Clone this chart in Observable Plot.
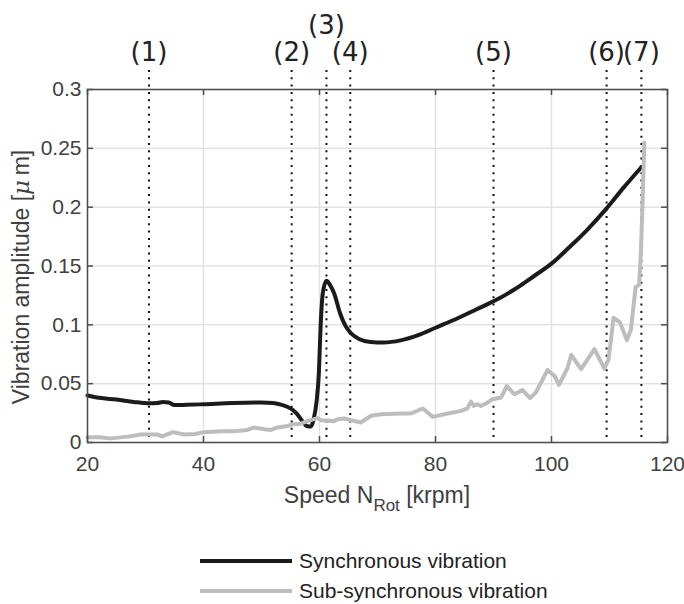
<!DOCTYPE html>
<html><head><meta charset="utf-8">
<script src="https://cdn.jsdelivr.net/npm/d3@7"></script>
<script src="https://cdn.jsdelivr.net/npm/@observablehq/plot@0.6"></script>
<style>
body{margin:0;background:#fff;overflow:hidden;font-family:"Liberation Sans",Arial,sans-serif}
#legend{position:absolute;left:0;top:546px;color:#222;font-size:21px}
.row{display:flex;align-items:center;height:30px}
.sw{margin-left:200px;width:92px;height:4px}
.lb{margin-left:7px}
</style></head><body><div id="chart"></div><div id="legend"></div>
<script>
// Synchronous vibration (black)
const syncSpeed = [20,22,25,28,30.6,32,33,34,35,37,40,45,50,52,53.5,55,56,57,57.8,58.5,59,59.5,59.9,60.2,60.6,61.2,61.8,62.5,63.6,64.5,65.3,66.8,68.8,71,74,77,80,84,87,90,93.6,97,100,103.3,106.2,109.5,112.5,115.5];
const syncAmp   = [0.040,0.038,0.0365,0.0345,0.0333,0.0335,0.0345,0.034,0.0318,0.032,0.0325,0.0335,0.034,0.0335,0.032,0.029,0.025,0.0185,0.014,0.0135,0.02,0.035,0.06,0.1,0.128,0.1375,0.134,0.127,0.109,0.099,0.0935,0.088,0.0855,0.085,0.0868,0.0912,0.0975,0.106,0.113,0.120,0.130,0.1415,0.152,0.167,0.181,0.199,0.217,0.234];
// Sub-synchronous vibration (grey)
const subSpeed = [20,22,24,27,29.2,32,32.9,34.7,36.7,38.5,40.1,43,45.3,47.6,48.7,50.5,51.6,52.8,54.5,55.6,56.8,58,59.7,60.2,61.9,62.5,63.1,64.3,65.4,67.1,68.9,70.6,74,75.7,77.8,79.5,82.1,84.4,85.5,86.1,86.6,87.2,87.8,88.7,89.8,91.3,92.3,93.6,95,96.3,97.3,98.2,99.3,100.5,101.3,102.8,103.4,105.1,107.4,109.1,109.8,110.2,110.7,111.8,113,113.7,114.5,115.1,115.4,115.7,116.0];
const subAmp   = [0.0045,0.0045,0.0035,0.005,0.0068,0.0068,0.0052,0.0088,0.0068,0.0072,0.0088,0.0095,0.0095,0.0107,0.0128,0.0112,0.0107,0.0128,0.014,0.0156,0.016,0.0184,0.0207,0.019,0.0184,0.018,0.0198,0.0204,0.019,0.017,0.0227,0.024,0.0246,0.0246,0.0289,0.0218,0.0246,0.0269,0.029,0.0348,0.031,0.0325,0.031,0.0331,0.0368,0.0382,0.048,0.041,0.0445,0.0377,0.0425,0.051,0.0615,0.0567,0.049,0.0637,0.0745,0.0623,0.0793,0.063,0.07,0.085,0.106,0.102,0.087,0.096,0.132,0.134,0.16,0.204,0.255];
// Operating points
const markerSpeed = [30.6,55.2,61.2,65.3,90,109.5,115.5];
const markerLabel = ["(1)","(2)","(3)","(4)","(5)","(6)","(7)"];
// Ticks
const xTicks = [20,40,60,80,100,120];
const xTickLabels = ["20","40","60","80","100","120"];
const yTicks = [0,0.05,0.1,0.15,0.2,0.25,0.3];
const yTickLabels = ["0","0.05","0.1","0.15","0.2","0.25","0.3"];
const seriesNames = ["Synchronous vibration","Sub-synchronous vibration"];
const seriesColors = ["#1b1b1b","#bdbdbd"];

const sync = syncSpeed.map((s,i)=>({speed:s, amp:syncAmp[i]}));
const sub = subSpeed.map((s,i)=>({speed:s, amp:subAmp[i]}));
const markers = markerSpeed.map((s,i)=>({speed:s, label:markerLabel[i]}));

const W=684,H=520,mt=89,mr=17,mb=78,ml=87;
const plotH=H-mt-mb, plotW=W-ml-mr;
const axCol="#4d4d4d";

const chart = Plot.plot({
  width:W,height:H,marginTop:mt,marginRight:mr,marginBottom:mb,marginLeft:ml,
  style:{fontFamily:'"Liberation Sans",Arial,sans-serif',fontSize:"21px",color:"#404040",background:"#fff",overflow:"visible"},
  x:{domain:[20,120]},
  y:{domain:[0,0.3]},
  marks:[
    Plot.gridX(xTicks,{stroke:"#e2e2e2",strokeOpacity:1,strokeWidth:1.5}),
    Plot.gridY(yTicks,{stroke:"#e2e2e2",strokeOpacity:1,strokeWidth:1.5}),
    Plot.ruleX(markers,{x:"speed",stroke:"#111",strokeWidth:2,strokeDasharray:"2 5.3",insetTop:-19}),
    Plot.line(sync,{x:"speed",y:"amp",stroke:seriesColors[0],strokeWidth:4,curve:"monotone-x"}),
    Plot.line(sub,{x:"speed",y:"amp",stroke:seriesColors[1],strokeWidth:4,strokeLinejoin:"round"}),
    Plot.frame({stroke:axCol,strokeWidth:1.5}),
    Plot.tickX(xTicks,{x:d=>d,insetTop:plotH-6,stroke:axCol,strokeWidth:1.5}),
    Plot.tickX(xTicks,{x:d=>d,insetBottom:plotH-6,stroke:axCol,strokeWidth:1.5}),
    Plot.tickY(yTicks,{y:d=>d,insetRight:plotW-6,stroke:axCol,strokeWidth:1.5}),
    Plot.tickY(yTicks,{y:d=>d,insetLeft:plotW-6,stroke:axCol,strokeWidth:1.5}),
    Plot.axisX(xTicks,{tickSize:0,tickPadding:14,label:null,tickFormat:(d,i)=>xTickLabels[i]}),
    Plot.axisY(yTicks,{tickSize:0,tickPadding:6,label:null,tickFormat:(d,i)=>yTickLabels[i]}),
    Plot.text(markers.filter(d=>d.label!=="(3)"),{x:"speed",text:"label",frameAnchor:"top",lineAnchor:"middle",dy:-37,fontSize:26,fill:"#222",fontFamily:"DejaVu Sans"}),
    Plot.text(markers.filter(d=>d.label==="(3)"),{x:"speed",text:"label",frameAnchor:"top",lineAnchor:"middle",dy:-64,fontSize:26,fill:"#222",fontFamily:"DejaVu Sans"})
  ]
});
document.getElementById("chart").appendChild(chart);

const svg = d3.select(chart);
const xl = svg.append("text").attr("x",ml+plotW/2).attr("y",503).attr("text-anchor","middle")
  .attr("fill","#404040").style("font-size","23px");
xl.append("tspan").text("Speed N");
xl.append("tspan").attr("dy",8).style("font-size","17px").text("Rot");
xl.append("tspan").attr("dy",-8).text(" [krpm]");

const yl = svg.append("text").attr("transform","translate(29,277) rotate(-90)").attr("text-anchor","middle")
  .attr("fill","#404040").style("font-size","23px");
yl.append("tspan").text("Vibration amplitude [");
yl.append("tspan").style("font-style","italic").style("font-family","'DejaVu Serif',serif").text("\u03bc");
yl.append("tspan").text("\u2009m]");

const leg = d3.select("#legend");
seriesNames.forEach((n,i)=>{
  const r = leg.append("div").attr("class","row");
  r.append("span").attr("class","sw").style("background",seriesColors[i]);
  r.append("span").attr("class","lb").text(n);
});
</script></body></html>
